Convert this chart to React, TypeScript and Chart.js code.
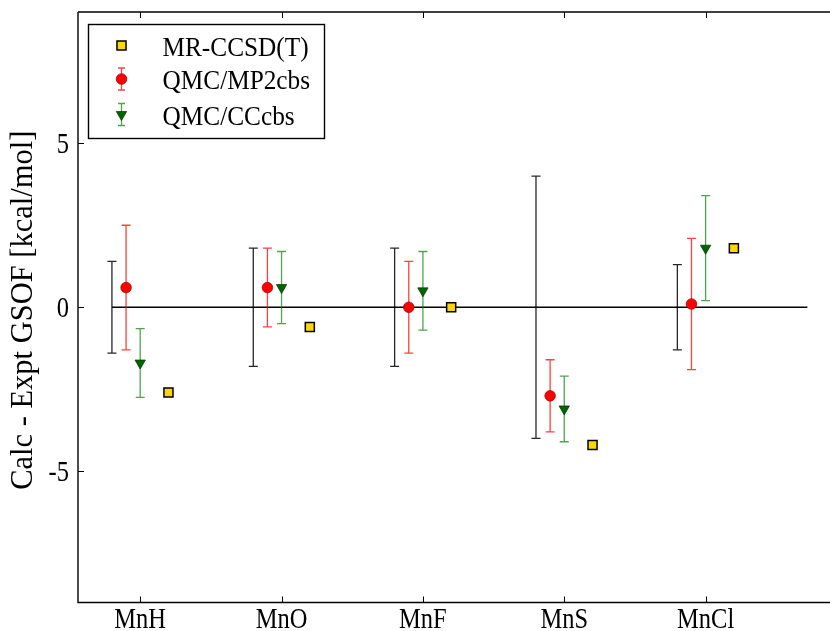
import React, { useEffect, useRef } from 'react';
import { Chart, registerables } from 'chart.js';
import { drawPoint } from 'chart.js/helpers';

Chart.register(...registerables);

// ---- data ----
const categories = ['MnH', 'MnO', 'MnF', 'MnS', 'MnCl'];
const exptValues = [0, 0, 0, 0, 0];
const exptErr = [1.4, 1.8, 1.8, 4.0, 1.3];
const mp2Values = [0.6, 0.6, 0.0, -2.7, 0.1];
const mp2Err = [1.9, 1.2, 1.4, 1.1, 2.0];
const ccValues = [-1.7, 0.6, 0.5, -3.1, 1.8];
const ccErr = [1.05, 1.1, 1.2, 1.0, 1.6];
const mrValues = [-2.6, -0.6, 0.0, -4.2, 1.8];
const yTickValues = [-5, 0, 5];
const zeroLineX = [-0.2, 4.72];
const zeroLineY = [0, 0];

const yLabel = 'Calc - Expt GSOF [kcal/mol]';
const legendOrder = ['MR-CCSD(T)', 'QMC/MP2cbs', 'QMC/CCcbs'];

// category offsets of each series
const OFF_EXPT = -0.2;
const OFF_MP2 = -0.1;
const OFF_CC = 0;
const OFF_MR = 0.2;

const FONT = '"Liberation Serif", "Times New Roman", serif';

function stretchText(
  ctx: CanvasRenderingContext2D,
  text: string,
  x: number,
  y: number,
  size: number,
  sy: number,
  align: CanvasTextAlign,
  rotate = false
) {
  ctx.save();
  ctx.translate(x, y);
  if (rotate) ctx.rotate(-Math.PI / 2);
  ctx.scale(1, sy);
  ctx.font = `${size}px ${FONT}`;
  ctx.textAlign = align;
  ctx.textBaseline = 'alphabetic';
  ctx.fillStyle = '#000';
  ctx.fillText(text, 0, 0);
  ctx.restore();
}

const errorBarPlugin = {
  id: 'errorBars',
  beforeDatasetDraw(chart: any, args: any) {
    const ds = chart.data.datasets[args.index];
    if (!ds.errors) return;
    const ctx = chart.ctx as CanvasRenderingContext2D;
    const xs = chart.scales.x;
    const ys = chart.scales.y;
    ctx.save();
    ctx.strokeStyle = ds.errColor;
    ctx.lineWidth = 1.3;
    const cap = 4.5;
    ds.data.forEach((p: any, i: number) => {
      const e = ds.errors[i];
      const px = xs.getPixelForValue(p.x);
      const top = ys.getPixelForValue(p.y + e);
      const bot = ys.getPixelForValue(p.y - e);
      ctx.beginPath();
      ctx.moveTo(px, top);
      ctx.lineTo(px, bot);
      ctx.moveTo(px - cap, top);
      ctx.lineTo(px + cap, top);
      ctx.moveTo(px - cap, bot);
      ctx.lineTo(px + cap, bot);
      ctx.stroke();
    });
    ctx.restore();
  },
};

const framePlugin = {
  id: 'frame',
  afterDraw(chart: any) {
    const ctx = chart.ctx as CanvasRenderingContext2D;
    const { left, right, top, bottom } = chart.chartArea;
    const xs = chart.scales.x;
    const ys = chart.scales.y;
    ctx.save();
    ctx.strokeStyle = '#000';
    ctx.lineWidth = 1.4;
    ctx.beginPath();
    ctx.moveTo(left, top);
    ctx.lineTo(right + 2, top);
    ctx.moveTo(left, top);
    ctx.lineTo(left, bottom);
    ctx.lineTo(right + 2, bottom);
    ctx.stroke();
    const tl = 6;
    ctx.lineWidth = 1;
    ctx.beginPath();
    xs.ticks.forEach((t: any) => {
      const px = Math.round(xs.getPixelForValue(t.value)) + 0.5;
      ctx.moveTo(px, bottom);
      ctx.lineTo(px, bottom - tl);
      ctx.moveTo(px, top);
      ctx.lineTo(px, top + tl);
    });
    ys.ticks.forEach((t: any) => {
      const py = Math.round(ys.getPixelForValue(t.value)) + 0.5;
      ctx.moveTo(left, py);
      ctx.lineTo(left + tl, py);
    });
    ctx.stroke();

    // tick labels
    xs.ticks.forEach((t: any, i: number) => {
      const px = xs.getPixelForValue(t.value);
      stretchText(ctx, categories[i] ?? '', px, bottom + 25, 24.5, 1.2, 'center');
    });
    ys.ticks.forEach((t: any) => {
      const py = ys.getPixelForValue(t.value);
      stretchText(ctx, String(t.value), left - 9, py + 9.5, 24.5, 1.2, 'right');
    });
    // axis title
    stretchText(ctx, yLabel, 32, (top + bottom) / 2 + 3, 30.5, 1.0, 'center', true);

    // legend
    const bx = left + 10.5;
    const by = top + 12.5;
    const bw = 236;
    const bh = 114;
    ctx.fillStyle = '#fff';
    ctx.fillRect(bx, by, bw, bh);
    ctx.lineWidth = 1.4;
    ctx.strokeStyle = '#000';
    ctx.strokeRect(bx, by, bw, bh);
    const rows = [21, 54.5, 90];
    legendOrder.forEach((name, r) => {
      const ds = chart.data.datasets.find((d: any) => d.label === name);
      if (!ds) return;
      const mx = bx + 33;
      const my = by + rows[r];
      if (ds.errors) {
        ctx.save();
        ctx.strokeStyle = ds.errColor;
        ctx.lineWidth = 1.3;
        ctx.beginPath();
        ctx.moveTo(mx, my - 11);
        ctx.lineTo(mx, my + 11);
        ctx.moveTo(mx - 3.5, my - 11);
        ctx.lineTo(mx + 3.5, my - 11);
        ctx.moveTo(mx - 3.5, my + 11);
        ctx.lineTo(mx + 3.5, my + 11);
        ctx.stroke();
        ctx.restore();
      }
      ctx.save();
      ctx.fillStyle = ds.backgroundColor;
      ctx.strokeStyle = ds.borderColor;
      ctx.lineWidth = ds.borderWidth;
      drawPoint(ctx, { pointStyle: ds.pointStyle, radius: ds.pointRadius, rotation: ds.rotation || 0, borderWidth: ds.borderWidth } as any, mx, my);
      ctx.restore();
      stretchText(ctx, name, bx + 74, my + 10, 25.3, 1.1, 'left');
    });
    ctx.restore();
  },
};

export default function App() {
  const ref = useRef<HTMLCanvasElement>(null);
  useEffect(() => {
    if (!ref.current) return;
    const toPts = (vals: number[], off: number) => vals.map((y, i) => ({ x: i + off, y }));
    const chart = new Chart(ref.current, {
      type: 'scatter',
      data: {
        datasets: [
          {
            label: 'zero',
            data: zeroLineX.map((x, i) => ({ x, y: zeroLineY[i] })),
            showLine: true,
            borderColor: '#000',
            borderWidth: 1.6,
            pointRadius: 0,
            order: 10,
          } as any,
          {
            label: 'Expt',
            data: toPts(exptValues, OFF_EXPT),
            pointRadius: 0,
            errors: exptErr,
            errColor: 'rgba(0,0,0,0.85)',
            order: 4,
          } as any,
          {
            label: 'QMC/MP2cbs',
            data: toPts(mp2Values, OFF_MP2),
            pointStyle: 'circle',
            pointRadius: 5.3,
            backgroundColor: '#ff0000',
            borderColor: '#9a0000',
            borderWidth: 0.7,
            errors: mp2Err,
            errColor: 'rgba(255,0,0,0.75)',
            order: 3,
          } as any,
          {
            label: 'QMC/CCcbs',
            data: toPts(ccValues, OFF_CC),
            pointStyle: 'triangle',
            rotation: 180,
            pointRadius: 6,
            backgroundColor: '#006400',
            borderColor: '#003300',
            borderWidth: 0.7,
            errors: ccErr,
            errColor: 'rgba(0,128,0,0.7)',
            order: 2,
          } as any,
          {
            label: 'MR-CCSD(T)',
            data: toPts(mrValues, OFF_MR),
            pointStyle: 'rect',
            pointRadius: 6.4,
            backgroundColor: '#ffd700',
            borderColor: '#000',
            borderWidth: 1.5,
            order: 1,
          } as any,
        ],
      },
      options: {
        responsive: false,
        animation: false,
        events: [],
        layout: { autoPadding: false, padding: { top: 12, left: 0, right: 0, bottom: 0 } },
        plugins: { legend: { display: false }, tooltip: { enabled: false } },
        scales: {
          x: {
            type: 'linear',
            min: -0.44,
            max: 4.88,
            grid: { display: false, drawTicks: false },
            border: { display: false },
            ticks: { display: false },
            afterBuildTicks: (s: any) => {
              s.ticks = categories.map((_, i) => ({ value: i }));
            },
            afterFit: (s: any) => {
              s.height = 28.5;
            },
          },
          y: {
            type: 'linear',
            min: -9,
            max: 9,
            grid: { display: false, drawTicks: false },
            border: { display: false },
            ticks: { display: false },
            afterBuildTicks: (s: any) => {
              s.ticks = yTickValues.map((v) => ({ value: v }));
            },
            afterFit: (s: any) => {
              s.width = 78;
            },
          },
        },
      },
      plugins: [errorBarPlugin, framePlugin],
    } as any);
    return () => chart.destroy();
  }, []);
  return (
    <div style={{ position: 'fixed', left: 0, top: 0, width: 830, height: 631, background: '#fff', overflow: 'hidden' }}>
      <canvas ref={ref} width={830} height={631} style={{ display: 'block' }} />
    </div>
  );
}
